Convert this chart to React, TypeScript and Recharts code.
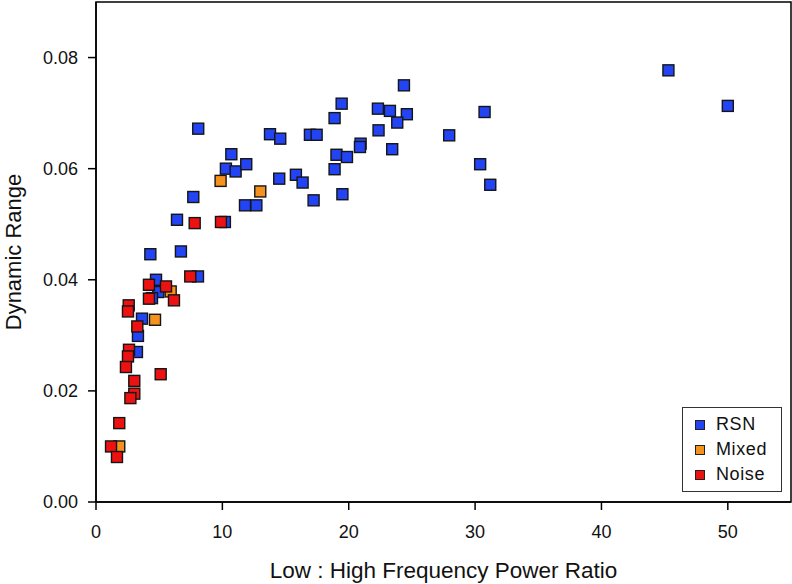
import React from "react";
import {
  ScatterChart,
  Scatter,
  XAxis,
  YAxis,
  ReferenceArea,
  Legend,
  Label,
} from "recharts";

// [ratio, dynamic range] pairs
const rsnPoints = [
  [45.3, 0.0777], [50.0, 0.0713], [8.09, 0.0672], [13.77, 0.0662], [14.58, 0.0654],
  [10.71, 0.0626], [10.28, 0.06], [11.05, 0.0595], [11.89, 0.0608], [14.5, 0.0582],
  [7.7, 0.0549], [11.79, 0.0534], [12.69, 0.0534], [6.41, 0.0508], [10.2, 0.0504],
  [4.3, 0.0446], [6.72, 0.0451], [24.37, 0.075], [19.44, 0.0717], [18.88, 0.0691],
  [22.31, 0.0708], [23.26, 0.0704], [24.6, 0.0698], [23.84, 0.0683], [30.75, 0.0702],
  [22.36, 0.0669], [27.95, 0.066], [16.93, 0.0661], [17.46, 0.0661], [20.94, 0.0645],
  [20.89, 0.0639], [23.44, 0.0635], [19.03, 0.0625], [19.86, 0.0621], [18.88, 0.0599],
  [30.4, 0.0608], [31.2, 0.0571], [15.82, 0.0589], [16.35, 0.0575], [17.22, 0.0543],
  [19.5, 0.0554], [8.07, 0.0406], [4.75, 0.04], [4.93, 0.0378], [4.43, 0.0367],
  [3.64, 0.033], [3.32, 0.0299], [3.24, 0.027],
];

const mixedPoints = [
  [9.86, 0.0578], [13.0, 0.0559], [5.91, 0.0379], [4.67, 0.0328], [1.84, 0.01],
];

const noisePoints = [
  [7.81, 0.0502], [9.89, 0.0504], [7.46, 0.0406], [4.19, 0.0391], [5.54, 0.0388],
  [6.17, 0.0363], [4.19, 0.0366], [2.59, 0.0354], [2.53, 0.0343], [3.27, 0.0316],
  [2.61, 0.0274], [2.53, 0.0262], [2.37, 0.0243], [5.12, 0.023], [3.03, 0.0218],
  [3.03, 0.0195], [2.72, 0.0187], [1.84, 0.0142], [1.19, 0.01], [1.66, 0.0081],
];

const xTicks = [0, 10, 20, 30, 40, 50];
const yTicks = [0, 0.02, 0.04, 0.06, 0.08];

const series = [
  { name: "RSN", color: "#2244f5", points: rsnPoints },
  { name: "Mixed", color: "#f5921e", points: mixedPoints },
  { name: "Noise", color: "#ee1111", points: noisePoints },
];

const toRows = (pts: number[][]) => pts.map(([x, y]) => ({ x, y }));

const Square = (props: any) => {
  const { cx, cy, fill } = props;
  if (cx == null || cy == null) return null;
  return (
    <rect x={cx - 5.5} y={cy - 5.5} width={11} height={11} fill={fill} stroke="#151515" strokeWidth={1.4} />
  );
};

const LegendBox = () => (
  <div
    style={{
      border: "1.2px solid #333",
      background: "#fff",
      padding: "4px 14px 4px 12px",
      fontFamily: "'Liberation Sans', Arial, sans-serif",
      fontSize: 18,
      color: "#111",
    }}
  >
    {series.map((s) => (
      <div key={s.name} style={{ display: "flex", alignItems: "center", height: 25 }}>
        <span
          style={{
            display: "inline-block",
            width: 8,
            height: 8,
            background: s.color,
            border: "1px solid #222",
            marginRight: 11,
          }}
        />
        <span style={{ letterSpacing: 0.6 }}>{s.name}</span>
      </div>
    ))}
  </div>
);

export default function App() {
  const tickStyle = { fill: "#111", fontSize: 18 };
  return (
    <div style={{ position: "absolute", left: 0, top: 0, width: 792, height: 584, background: "#fff" }}>
      <ScatterChart
        width={792}
        height={584}
        margin={{ top: 2, right: 1, bottom: 0, left: 0 }}
        style={{ fontFamily: "'Liberation Sans', Arial, sans-serif" }}
      >
        <XAxis
          type="number"
          dataKey="x"
          domain={[0, 55]}
          ticks={xTicks}
          height={82}
          stroke="#000"
          strokeWidth={1.5}
          tickSize={8}
          tickMargin={15}
          tick={tickStyle}
          allowDataOverflow
        >
          <Label
            value="Low : High Frequency Power Ratio"
            position="insideBottom"
            offset={6}
            style={{ fill: "#111", fontSize: 22.5 }}
          />
        </XAxis>
        <YAxis
          type="number"
          dataKey="y"
          domain={[0, 0.09]}
          ticks={yTicks}
          width={96}
          stroke="#000"
          strokeWidth={1.5}
          tickSize={8}
          tickMargin={10}
          tick={tickStyle}
          tickFormatter={(v: number) => v.toFixed(2)}
          allowDataOverflow
        >
          <Label
            value="Dynamic Range"
            angle={-90}
            position="center"
            dx={-35}
            style={{ fill: "#111", fontSize: 22, textAnchor: "middle" }}
          />
        </YAxis>
        <ReferenceArea x1={0} x2={55} y1={0} y2={0.09} fill="none" stroke="#000" strokeWidth={1.5} />
        {series.map((s) => (
          <Scatter
            key={s.name}
            name={s.name}
            data={toRows(s.points)}
            fill={s.color}
            shape={<Square />}
            isAnimationActive={false}
          />
        ))}
        <Legend
          layout="horizontal"
          verticalAlign="middle"
          align="center"
          content={<LegendBox />}
          wrapperStyle={{ left: 682, top: 407, width: "auto", height: "auto" }}
        />
      </ScatterChart>
    </div>
  );
}
